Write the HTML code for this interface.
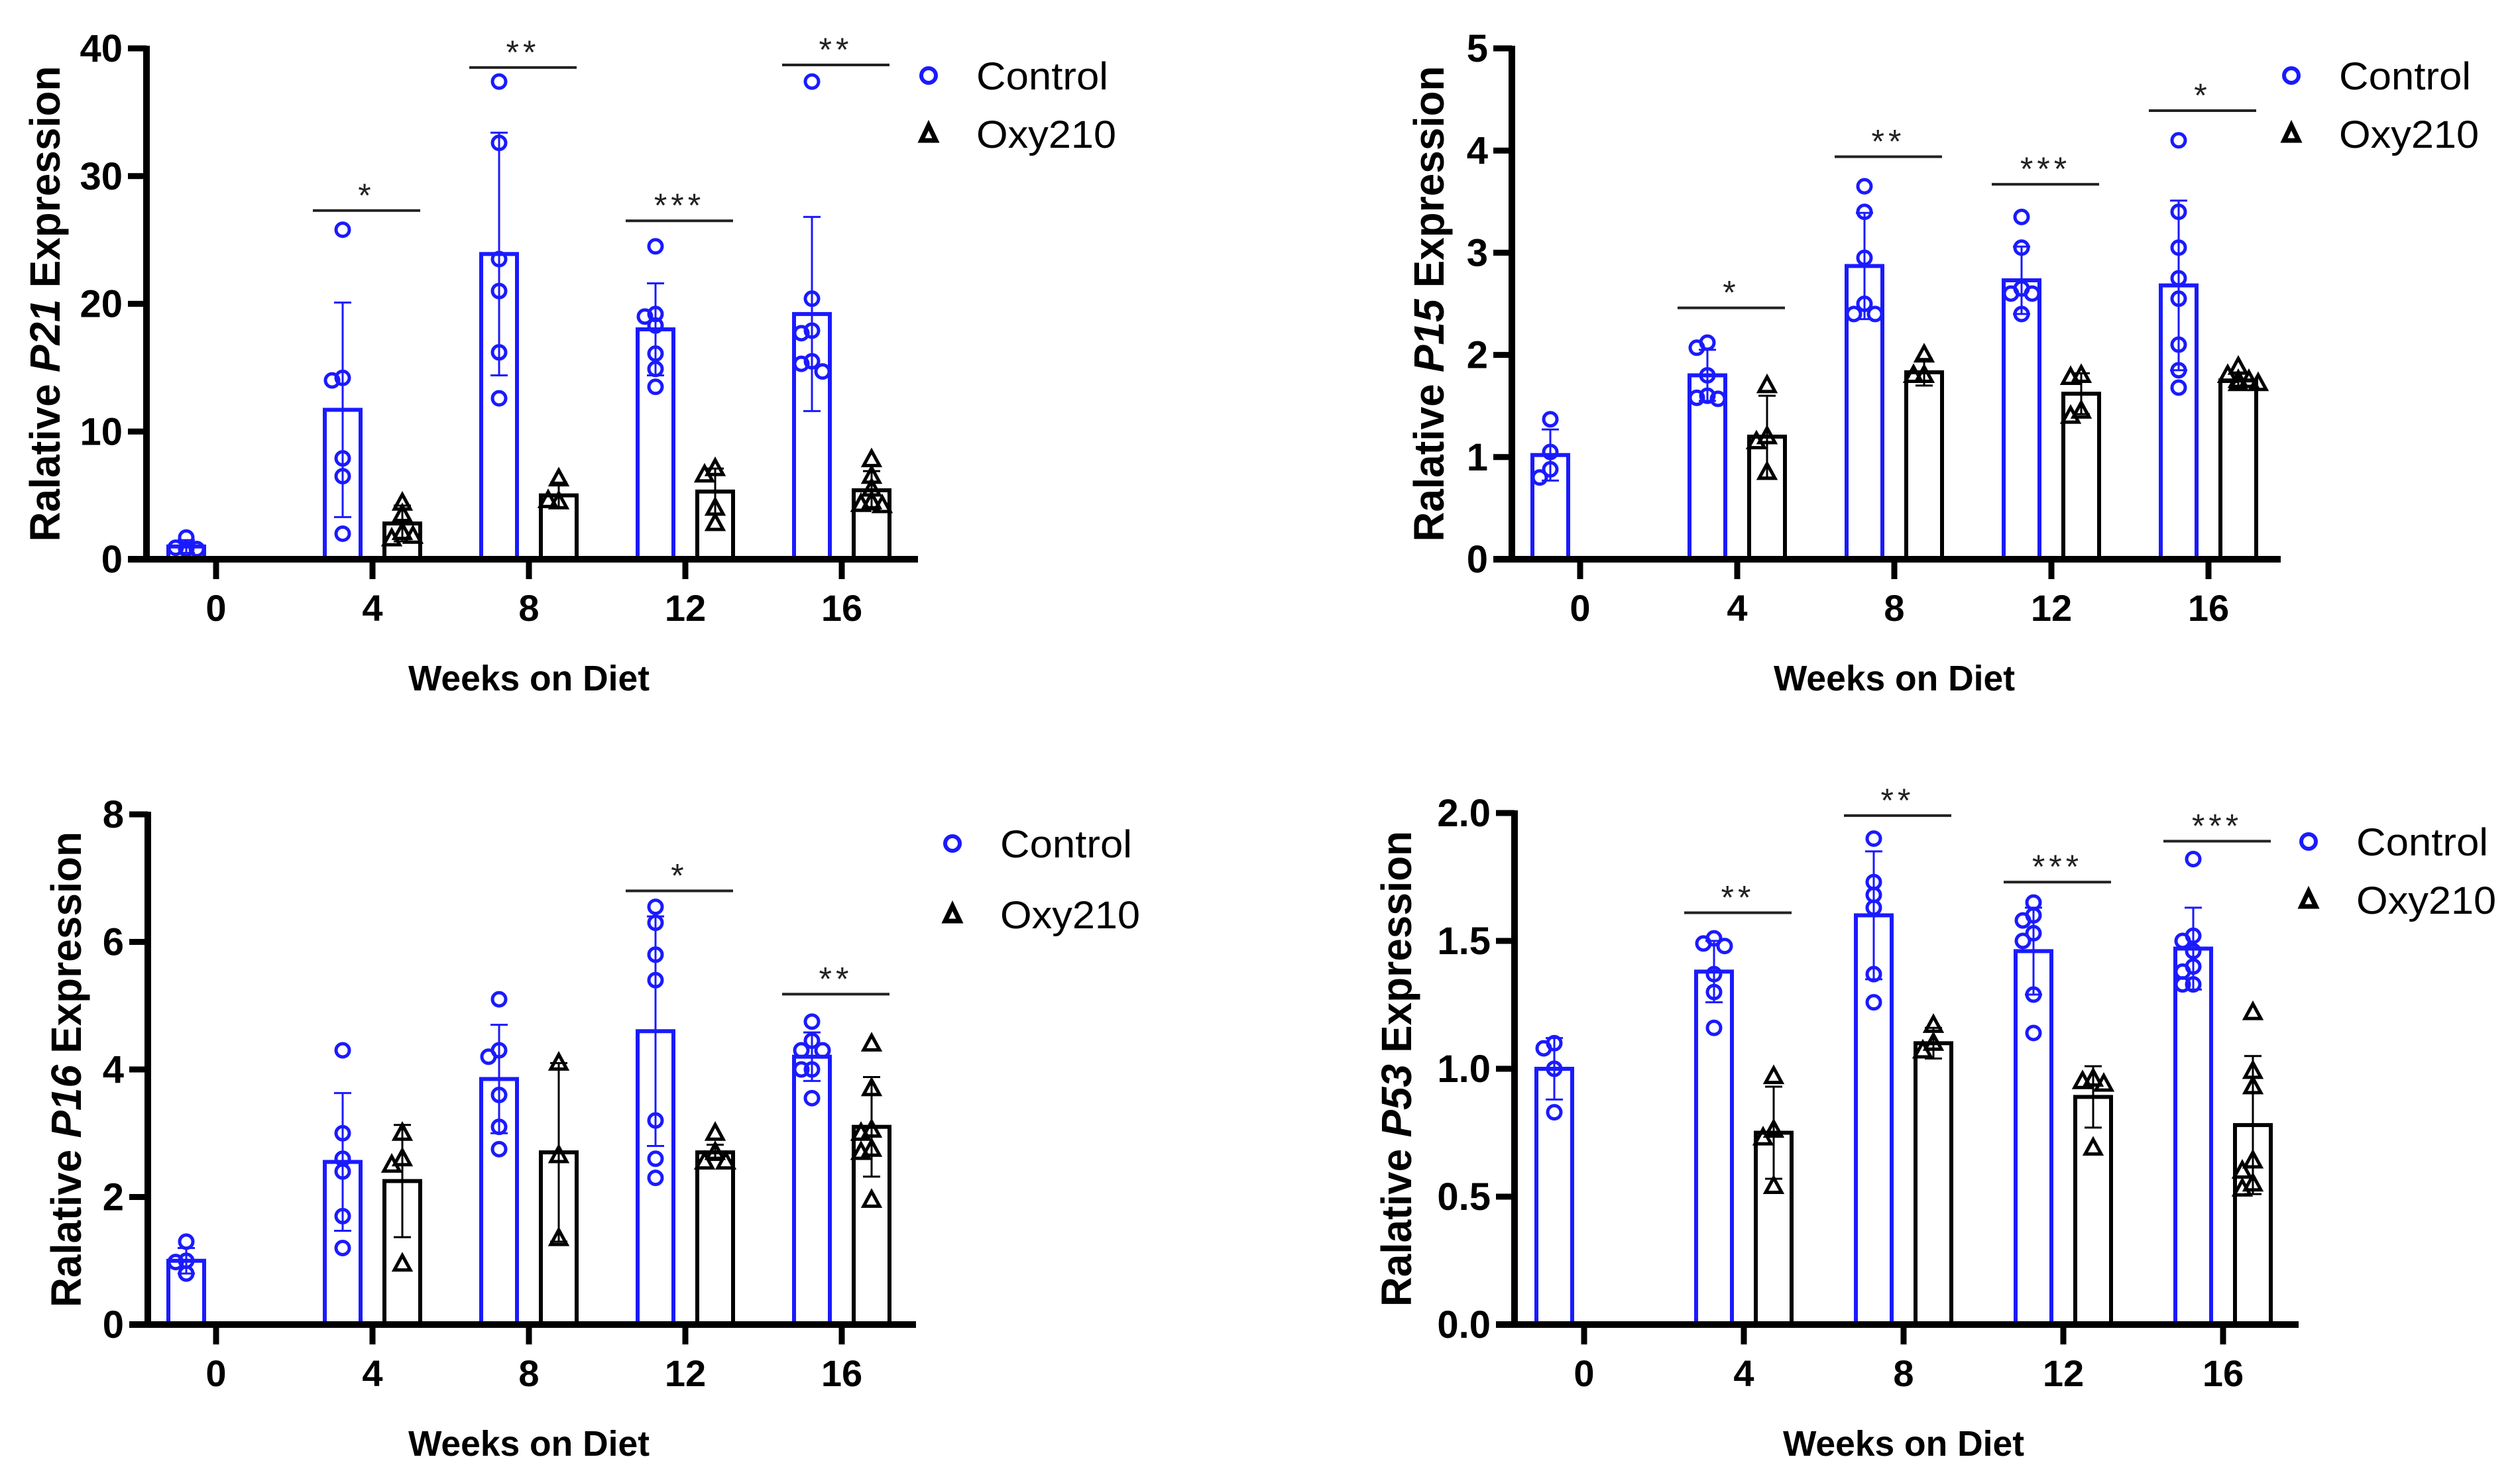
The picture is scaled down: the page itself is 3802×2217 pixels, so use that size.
<!DOCTYPE html>
<html><head><meta charset="utf-8"><style>
html,body{margin:0;padding:0;background:#fff}
svg{display:block}
text{font-family:"Liberation Sans",sans-serif}
</style></head><body>
<svg id="chart" xmlns="http://www.w3.org/2000/svg" width="3802" height="2217" viewBox="0 0 3802 2217"></svg>
<script>
const weeks = ["0","4","8","12","16"];
// P21
const p21CtrlMean = [1.0, 11.7, 23.9, 18.0, 19.2];
const p21CtrlSd = [0.5, 8.4, 9.5, 3.6, 7.6];
const p21OxyMean = [null, 2.8, 5.0, 5.3, 5.4];
const p21OxySd = [null, 1.4, 1.0, 1.8, 1.5];
const p21CtrlPts = [[0.8,0.9,0.8,1.7],[25.8,14.2,14.0,7.9,6.5,2.0],[37.4,32.6,23.5,21.0,16.2,12.6],[24.5,19.2,19.0,18.3,16.1,14.9,13.5],[37.4,20.4,17.9,17.7,15.5,15.3,14.7]];
const p21OxyPts = [[],[4.4,3.5,2.1,1.6,1.8],[6.3,4.5,4.6],[7.1,6.6,4.0,2.8],[7.8,6.5,5.5,4.5,4.3,4.2,4.3]];
const p21Sig = [null,[27.3,"*"],[38.5,"**"],[26.5,"***"],[38.7,"**"]];
const p21Ticks = [0,10,20,30,40];
// P15
const p15CtrlMean = [1.02, 1.8, 2.87, 2.73, 2.68];
const p15CtrlSd = [0.25, 0.25, 0.52, 0.33, 0.83];
const p15OxyMean = [null, 1.2, 1.83, 1.62, 1.75];
const p15OxySd = [null, 0.4, 0.13, 0.2, 0.07];
const p15CtrlPts = [[1.37,1.05,0.88,0.8],[2.12,2.07,1.8,1.6,1.58,1.57],[3.65,3.4,2.95,2.5,2.4,2.4],[3.35,3.05,2.65,2.6,2.6,2.4],[4.1,3.4,3.05,2.75,2.55,2.1,1.85,1.68]];
const p15OxyPts = [[],[1.7,1.2,1.15,0.85],[2.0,1.8,1.8],[1.8,1.78,1.45,1.4],[1.88,1.8,1.75,1.75,1.72,1.72]];
const p15Sig = [null,[2.46,"*"],[3.94,"**"],[3.67,"***"],[4.39,"*"]];
const p15Ticks = [0,1,2,3,4,5];
// P16
const p16CtrlMean = [1.0, 2.55, 3.85, 4.6, 4.2];
const p16CtrlSd = [0.2, 1.08, 0.85, 1.8, 0.38];
const p16OxyMean = [null, 2.25, 2.7, 2.7, 3.1];
const p16OxySd = [null, 0.88, 1.4, 0.12, 0.78];
const p16CtrlPts = [[1.3,1.0,0.98,0.8],[4.3,3.0,2.6,2.4,1.7,1.2],[5.1,4.3,4.2,3.6,3.1,2.75],[6.55,6.3,5.8,5.4,3.2,2.6,2.3],[4.75,4.45,4.3,4.3,4.0,4.0,3.55]];
const p16OxyPts = [[],[3.0,2.6,2.5,0.95],[4.1,2.65,1.35],[3.0,2.7,2.55,2.55],[4.4,3.7,3.05,3.0,2.75,2.7,1.95]];
const p16Sig = [null,null,null,[6.8,"*"],[5.18,"**"]];
const p16Ticks = [0,2,4,6,8];
// P53
const p53CtrlMean = [1.0, 1.38, 1.6, 1.46, 1.47];
const p53CtrlSd = [0.12, 0.12, 0.25, 0.17, 0.16];
const p53OxyMean = [null, 0.75, 1.1, 0.89, 0.78];
const p53OxySd = [null, 0.18, 0.06, 0.12, 0.27];
const p53CtrlPts = [[1.1,1.08,1.0,0.83],[1.51,1.49,1.48,1.37,1.3,1.16],[1.9,1.73,1.68,1.63,1.37,1.26],[1.65,1.6,1.58,1.53,1.5,1.29,1.14],[1.82,1.52,1.5,1.46,1.4,1.38,1.33,1.33]];
const p53OxyPts = [[],[0.97,0.76,0.73,0.54],[1.17,1.1,1.07],[0.96,0.95,0.94,0.69],[1.22,0.99,0.93,0.64,0.6,0.55,0.53]];
const p53Sig = [null,[1.61,"**"],[1.99,"**"],[1.73,"***"],[1.89,"***"]];
const p53Ticks = [0,0.5,1.0,1.5,2.0];

const NS="http://www.w3.org/2000/svg";
const svg=document.getElementById('chart');
function mk(tag,attrs,parent,txt){const e=document.createElementNS(NS,tag);for(const k in attrs)e.setAttribute(k,attrs[k]);if(txt!==undefined)e.textContent=txt;(parent||svg).appendChild(e);return e;}
const BLUE="#1a1aff";

function spread(pys){
  const out=[];
  pys.forEach((py)=>{
    let off=0;
    const cand=[0,-16,16,-30,30];
    let found=false;
    for(const c of cand){
      if(out.every((o,j)=>Math.abs(pys[j]-py)>=16||Math.abs(o-c)>=16)){off=c;found=true;break;}
    }
    if(!found)off=cand[out.length%cand.length];
    out.push(off);
  });
  return out;
}

function panel(cfg){
  const g=mk('g',{});
  
  
  const ymax=cfg.ticks[cfg.ticks.length-1];
  const y=v=>cfg.y0-(v/ymax)*(cfg.y0-cfg.ytop);
  const x=i=>cfg.x0tick+i*cfg.step;
  cfg.ctrlMean.forEach((m,i)=>{
    const cx=x(i)-45;
    const b=mk('rect',{x:cx-27,y:y(m),width:54,height:cfg.y0-y(m),fill:'none',stroke:BLUE,'stroke-width':6},g);
    
    
  });
  cfg.oxyMean.forEach((m,i)=>{
    if(m===null)return;
    const cx=x(i)+45;
    const b=mk('rect',{x:cx-27,y:y(m),width:54,height:cfg.y0-y(m),fill:'none',stroke:'#000','stroke-width':6},g);
    
    
  });
  function err(cx,m,sd,col,nm){
    const eg=mk('g',{stroke:col,'stroke-width':3},g);
    
    
    mk('line',{x1:cx,x2:cx,y1:y(m+sd),y2:y(m-sd)},eg);
    mk('line',{x1:cx-13,x2:cx+13,y1:y(m+sd),y2:y(m+sd)},eg);
    mk('line',{x1:cx-13,x2:cx+13,y1:y(m-sd),y2:y(m-sd)},eg);
  }
  cfg.ctrlMean.forEach((m,i)=>err(x(i)-45,m,cfg.ctrlSd[i],BLUE,'control-error-bar-week-'+weeks[i]));
  cfg.oxyMean.forEach((m,i)=>{if(m!==null)err(x(i)+45,m,cfg.oxySd[i],'#000','oxy210-error-bar-week-'+weeks[i]);});
  cfg.ctrlPts.forEach((arr,i)=>{
    const pys=arr.map(v=>y(v));const offs=spread(pys);
    arr.forEach((v,k)=>{
      const c=mk('circle',{cx:x(i)-45+offs[k],cy:pys[k],r:10,fill:'none',stroke:BLUE,'stroke-width':5},g);
      
      
    });
  });
  cfg.oxyPts.forEach((arr,i)=>{
    const pys=arr.map(v=>y(v));const offs=spread(pys);
    arr.forEach((v,k)=>{
      const px=x(i)+45+offs[k],py=pys[k];
      const t=mk('path',{d:`M${px},${py-13} L${px+12},${py+9} L${px-12},${py+9} Z`,fill:'none',stroke:'#000','stroke-width':5},g);
      
      
    });
  });
  cfg.sig.forEach((s,i)=>{
    if(!s)return;
    const sg=mk('g',{},g);
    
    
    mk('line',{x1:x(i)-90,x2:x(i)+72,y1:y(s[0]),y2:y(s[0]),stroke:'#222','stroke-width':4},sg);
    mk('text',{x:x(i)-9,y:y(s[0])-6,'text-anchor':'middle','font-size':50,fill:'#222','letter-spacing':6},sg,s[1]);
  });
  const ax=mk('g',{},g);
  
  
  mk('line',{x1:cfg.ax,x2:cfg.ax,y1:cfg.ytop-4,y2:cfg.y0+5,stroke:'#000','stroke-width':10},ax);
  cfg.ticks.forEach(t=>{
    mk('line',{x1:cfg.ax-28,x2:cfg.ax,y1:y(t),y2:y(t),stroke:'#000','stroke-width':9},ax);
    const lab=mk('text',{x:cfg.ax-36,y:y(t)+20,'text-anchor':'end','font-size':58,'font-weight':'bold'},ax,cfg.fmt(t));
    
    
  });
  const xa=mk('g',{},g);
  
  
  mk('line',{x1:cfg.ax-28,x2:cfg.xend,y1:cfg.y0,y2:cfg.y0,stroke:'#000','stroke-width':10},xa);
  weeks.forEach((w,i)=>{
    mk('line',{x1:x(i),x2:x(i),y1:cfg.y0,y2:cfg.y0+30,stroke:'#000','stroke-width':9},xa);
    const lab=mk('text',{x:x(i),y:cfg.y0+93,'text-anchor':'middle','font-size':56,'font-weight':'bold'},xa,w);
    
    
  });
  const xt=mk('text',{x:x(2),y:cfg.y0+198,'text-anchor':'middle','font-size':54,'font-weight':'bold',textLength:364,lengthAdjust:'spacingAndGlyphs'},g,'Weeks on Diet');
  
  
  const ty=(cfg.y0+cfg.ytop)/2;
  const yt=mk('text',{x:0,y:0,transform:`translate(${cfg.titleX},${ty}) rotate(-90)`,'text-anchor':'middle','font-size':64,'font-weight':'bold',textLength:718,lengthAdjust:'spacingAndGlyphs'},g);
  
  
  mk('tspan',{},yt,'Ralative ');
  mk('tspan',{'font-style':'italic'},yt,cfg.gene);
  mk('tspan',{},yt,' Expression');
  const lg=mk('g',{},g);
  
  
  const l1=mk('g',{},lg);
  
  
  mk('circle',{cx:cfg.lx,cy:cfg.ly1,r:11,fill:'none',stroke:BLUE,'stroke-width':6},l1);
  mk('text',{x:cfg.lx+72,y:cfg.ly1+21,'font-size':58,textLength:199,lengthAdjust:'spacingAndGlyphs'},l1,'Control');
  const l2=mk('g',{},lg);
  
  
  mk('path',{d:`M${cfg.lx},${cfg.ly2-13} L${cfg.lx+11},${cfg.ly2+10} L${cfg.lx-11},${cfg.ly2+10} Z`,fill:'none',stroke:'#000','stroke-width':7},l2);
  mk('text',{x:cfg.lx+72,y:cfg.ly2+21,'font-size':58,textLength:211,lengthAdjust:'spacingAndGlyphs'},l2,'Oxy210');
}

panel({name:'p21',gene:'P21',ax:221,y0:844,ytop:73,x0tick:326,step:236,xend:1385,ticks:p21Ticks,fmt:t=>String(t),
  ctrlMean:p21CtrlMean,ctrlSd:p21CtrlSd,oxyMean:p21OxyMean,oxySd:p21OxySd,ctrlPts:p21CtrlPts,oxyPts:p21OxyPts,sig:p21Sig,
  titleX:90,lx:1401,ly1:114,ly2:202});
panel({name:'p15',gene:'P15',ax:2281,y0:844,ytop:73,x0tick:2384,step:237,xend:3441,ticks:p15Ticks,fmt:t=>String(t),
  ctrlMean:p15CtrlMean,ctrlSd:p15CtrlSd,oxyMean:p15OxyMean,oxySd:p15OxySd,ctrlPts:p15CtrlPts,oxyPts:p15OxyPts,sig:p15Sig,
  titleX:2178,lx:3457,ly1:114,ly2:202});
panel({name:'p16',gene:'P16',ax:223,y0:1999,ytop:1229,x0tick:326,step:236,xend:1382,ticks:p16Ticks,fmt:t=>String(t),
  ctrlMean:p16CtrlMean,ctrlSd:p16CtrlSd,oxyMean:p16OxyMean,oxySd:p16OxySd,ctrlPts:p16CtrlPts,oxyPts:p16OxyPts,sig:p16Sig,
  titleX:122,lx:1437,ly1:1273,ly2:1380});
panel({name:'p53',gene:'P53',ax:2285,y0:1999,ytop:1227,x0tick:2390,step:241,xend:3468,ticks:p53Ticks,fmt:t=>t.toFixed(1),
  ctrlMean:p53CtrlMean,ctrlSd:p53CtrlSd,oxyMean:p53OxyMean,oxySd:p53OxySd,ctrlPts:p53CtrlPts,oxyPts:p53OxyPts,sig:p53Sig,
  titleX:2129,lx:3483,ly1:1270,ly2:1358});
</script>
</body></html>
